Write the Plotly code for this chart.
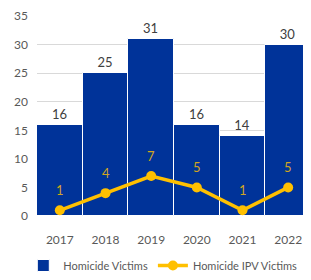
import plotly.graph_objects as go

years = ["2017", "2018", "2019", "2020", "2021", "2022"]
homicide_victims = [16, 25, 31, 16, 14, 30]
ipv_victims = [1, 4, 7, 5, 1, 5]
y_ticks = [0, 5, 10, 15, 20, 25, 30, 35]

font_family = "Lato, Open Sans, sans-serif"

fig = go.Figure()
fig.add_trace(go.Bar(
    x=years, y=homicide_victims, name="Homicide Victims",
    marker=dict(color="#003399", line=dict(color="white", width=1)),
    text=homicide_victims, textposition="outside",
    textfont=dict(color="#404040", size=13, family=font_family),
    cliponaxis=False,
))
fig.add_trace(go.Scatter(
    x=years, y=ipv_victims, name="Homicide IPV Victims",
    mode="lines+markers",
    line=dict(color="#FFC000", width=3.5),
    marker=dict(color="#FFC000", size=10),
    cliponaxis=False,
))
for i, v in enumerate(ipv_victims):
    fig.add_annotation(x=i, y=v, xref="x", yref="y", text=str(v), showarrow=False,
                       yshift=20,
                       font=dict(color="#D0A520", size=13, family=font_family))

fig.update_layout(
    width=303, height=272,
    margin=dict(l=29, r=0, t=8, b=53),
    paper_bgcolor="white", plot_bgcolor="white",
    bargap=0,
    font=dict(family=font_family, size=12, color="#595959"),
    showlegend=True,
    legend=dict(orientation="h", x=-0.05, xanchor="left", y=-0.175, yanchor="top",
                font=dict(size=11, color="#595959"), itemwidth=30,
                tracegroupgap=0),
    xaxis=dict(type="category", range=[-0.5, 5.5], showgrid=False, ticks="",
               showline=False, automargin=False,
               ticklabelstandoff=15, tickfont=dict(size=12, color="#595959")),
    yaxis=dict(range=[0, 35.01], tickvals=y_ticks, showgrid=True, gridcolor="#D9D9D9",
               gridwidth=1, zeroline=False, ticks="", showline=False, automargin=False,
               ticklabeloverflow="allow",
               ticklabelstandoff=8, tickfont=dict(size=12, color="#595959")),
)

fig.write_html("out.html")
